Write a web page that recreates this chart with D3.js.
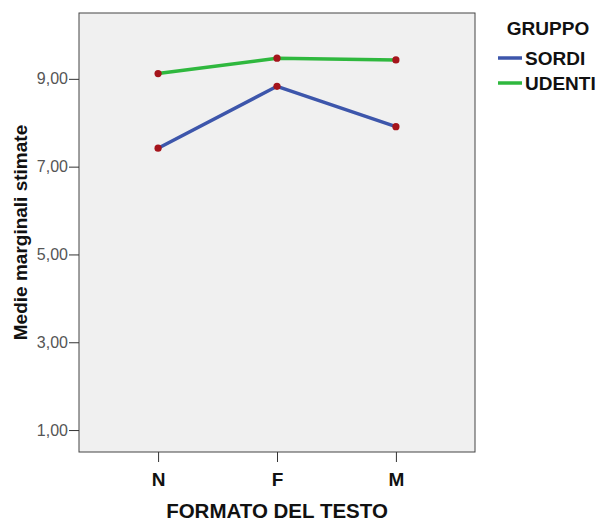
<!DOCTYPE html>
<html>
<head>
<meta charset="utf-8">
<script src="https://cdn.jsdelivr.net/npm/d3@7"></script>
<style>
html,body{margin:0;padding:0;background:#fff;}
svg{display:block;font-family:"Liberation Sans",Arial,sans-serif;}
</style>
</head>
<body>
<svg id="chart" width="600" height="523"></svg>
<script>
const categories = ["N", "F", "M"];
const seriesNames = ["SORDI", "UDENTI"];
const sordi = [7.42, 8.83, 7.91];
const udenti = [9.12, 9.47, 9.43];
const yTicks = [1, 3, 5, 7, 9];
const colors = ["#3d56ab", "#2fb83e"];

const FONT = "'Liberation Sans', Arial, sans-serif";
const svg = d3.select("#chart");
const L = 79, R = 475, T = 13, B = 452;

const x = d3.scalePoint().domain(categories).range([L, R]).padding(0.665);
const y = d3.scaleLinear().domain([0.5, 10.5]).range([B, T]);

svg.append("rect").attr("x", L).attr("y", T).attr("width", R - L).attr("height", B - T)
  .attr("fill", "#f0f0f0").attr("stroke", "#444").attr("stroke-width", 1);

const yAxis = svg.append("g").attr("transform", `translate(${L},0)`)
  .call(d3.axisLeft(y).tickValues(yTicks).tickSize(10).tickPadding(1)
    .tickFormat(d => d3.format(".2f")(d).replace(".", ",")));
yAxis.select(".domain").remove();
yAxis.selectAll("line").attr("stroke", "#333");
yAxis.selectAll("text").attr("fill", "#555").style("font-size", "16px")
  .style("font-family", FONT);

const xAxis = svg.append("g").attr("transform", `translate(0,${B})`)
  .call(d3.axisBottom(x).tickSize(10).tickPadding(11));
xAxis.select(".domain").remove();
xAxis.selectAll("line").attr("stroke", "#333");
xAxis.selectAll("text").attr("fill", "#111").style("font-size", "19px").style("font-weight", "bold")
  .style("font-family", FONT);

const data = [sordi, udenti];
const line = d3.line().x((d, i) => x(categories[i])).y(d => y(d));
data.forEach((vals, k) => {
  svg.append("path").datum(vals).attr("d", line).attr("fill", "none")
    .attr("stroke", colors[k]).attr("stroke-width", 3.5);
});
data.forEach(vals => {
  svg.append("g").selectAll("circle").data(vals).enter().append("circle")
    .attr("cx", (d, i) => x(categories[i])).attr("cy", d => y(d)).attr("r", 3.6)
    .attr("fill", "#a5141b");
});

svg.append("text").attr("transform", `translate(27,${(T + B) / 2}) rotate(-90)`)
  .attr("text-anchor", "middle").style("font-size", "19px").style("font-weight", "bold")
  .attr("fill", "#111").text("Medie marginali stimate");

svg.append("text").attr("x", (L + R) / 2).attr("y", 518).attr("text-anchor", "middle")
  .style("font-size", "20.5px").style("font-weight", "bold").attr("fill", "#111")
  .text("FORMATO DEL TESTO");

const leg = svg.append("g");
leg.append("text").attr("x", 548).attr("y", 35).attr("text-anchor", "middle")
  .style("font-size", "19px").style("font-weight", "bold").attr("fill", "#111").text("GRUPPO");
seriesNames.forEach((name, k) => {
  const yy = 58 + k * 25;
  leg.append("line").attr("x1", 498).attr("x2", 522).attr("y1", yy).attr("y2", yy)
    .attr("stroke", colors[k]).attr("stroke-width", 3.5);
  leg.append("text").attr("x", 525).attr("y", yy + 7)
    .style("font-size", "19px").style("font-weight", "bold").attr("fill", "#111").text(name);
});
</script>
</body>
</html>
